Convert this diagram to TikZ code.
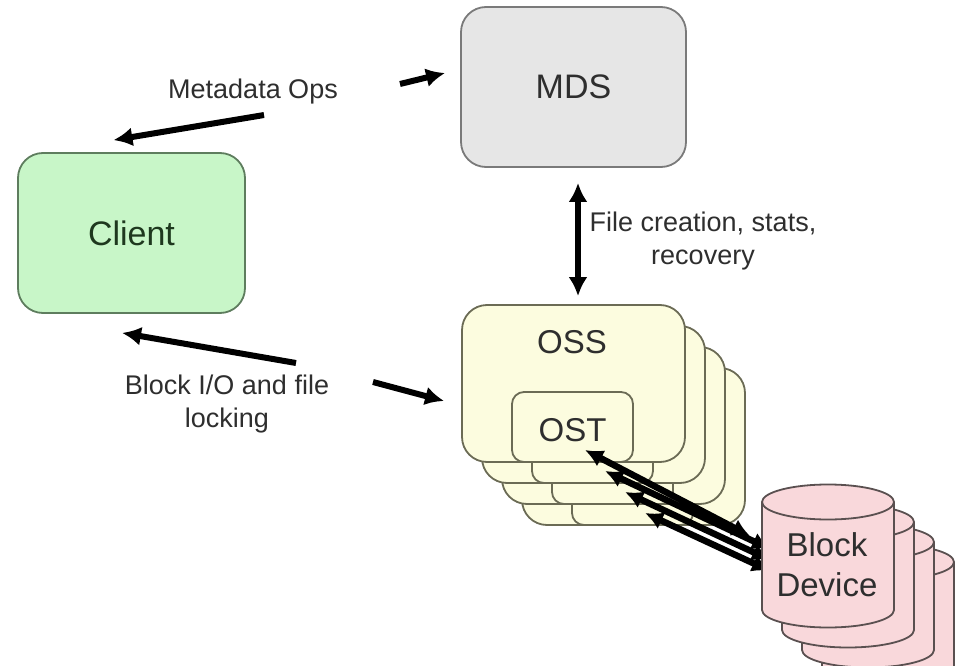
\documentclass[tikz,border=0pt]{standalone}
\usepackage{fontspec}
\setmainfont{Liberation Sans}
\usetikzlibrary{arrows.meta}

\definecolor{clientfill}{HTML}{C8F6C8}
\definecolor{clientline}{HTML}{5E7D5E}
\definecolor{clienttxt}{HTML}{1E381E}
\definecolor{mdsfill}{HTML}{E6E6E6}
\definecolor{mdsline}{HTML}{7A7A7A}
\definecolor{ossfill}{HTML}{FCFCDF}
\definecolor{ossline}{HTML}{6B6B55}
\definecolor{devfill}{HTML}{F9D8DB}
\definecolor{devline}{HTML}{5A5050}
\definecolor{txt}{HTML}{2E2E2E}

\begin{document}
\begin{tikzpicture}[x=1pt,y=-1pt,
  box/.style={draw, rounded corners=25pt, line width=1.8pt, inner sep=0pt},
  big/.style={font=\fontsize{33}{40}\selectfont, text=txt, align=center},
  lbl/.style={font=\fontsize{27}{33}\selectfont, text=txt, align=center},
  flow/.style={line width=6pt, -{Latex[length=19pt,width=19pt]}},
  both/.style={line width=6pt, {Latex[length=19pt,width=19pt]}-{Latex[length=19pt,width=19pt]}},
  link/.style={line width=6.5pt, {Latex[length=18pt,width=18pt]}-{Latex[length=18pt,width=18pt]}},
  cyl/.style={fill=devfill, draw=devline, line width=1.8pt},
]
\useasboundingbox (0,0) rectangle (961,666);
\clip (0,0) rectangle (961,666);

% Client and metadata server
\node[box, fill=clientfill, draw=clientline, minimum width=227pt, minimum height=160pt,
      font=\fontsize{34}{40}\selectfont, text=clienttxt] (client) at (131.5,233) {Client};
\node[box, fill=mdsfill, draw=mdsline, minimum width=225pt, minimum height=160pt,
      font=\fontsize{34}{40}\selectfont, text=txt] (mds) at (573.5,87) {MDS};

% Object storage servers, drawn back to front
\foreach \k in {3,2,1,0}{
  \begin{scope}[shift={(20*\k,21*\k)}]
    \node[box, fill=ossfill, draw=ossline, minimum width=223pt, minimum height=157pt]
      (oss\k) at (573.5,383.5) {};
    \node[box, rounded corners=12pt, fill=ossfill, draw=ossline,
          minimum width=121pt, minimum height=70pt] (ost\k) at (572.5,427) {};
    \coordinate (ostport\k) at ([xshift=12.5pt,yshift=-23pt]ost\k.center);
  \end{scope}
}
\node[big] (osstitle) at (572,342) {OSS};
\node[big] (osttitle) at (572.5,430) {OST};

% Labels
\node[lbl] (mdlabel) at (253,92) {Metadata Ops};
\node[lbl] (iolabel) at (227,404) {Block I/O and file\\locking};
\node[lbl] (fclabel) at (703,241) {File creation, stats,\\recovery};

% Client / server traffic
\coordinate (mdfrom) at (264,115);
\coordinate (mdto) at (400,84);
\coordinate (iofrom) at (296,363);
\coordinate (ioto) at (373,382);
\draw[flow] (mdfrom) -- ([xshift=-18pt,yshift=12pt]client.north);
\draw[flow] (mdto) -- ([xshift=-15pt,yshift=14pt]mds.west);
\draw[flow] (iofrom) -- ([xshift=-9.5pt,yshift=-19pt]client.south);
\draw[flow] (ioto) -- ([xshift=-17pt,yshift=-17.5pt]oss0.west);
\draw[both] ([xshift=4.5pt,yshift=-15pt]mds.south) -- ([xshift=4.5pt,yshift=8pt]oss0.north);

% OST to block device links
\coordinate (devport0) at (750,536);
\coordinate (devport1) at (770,549);
\coordinate (devport2) at (770,560);
\coordinate (devport3) at (770,571);
\foreach \k in {0,1,2,3}{
  \draw[link] (ostport\k) -- (devport\k);
}

% Block devices, drawn back to front
\foreach \k in {3,2,1,0}{
  \begin{scope}[shift={(20*\k,20*\k)}]
    \path[cyl] (762,502) -- (762,610)
      arc[start angle=180, end angle=360, x radius=66pt, y radius=17.5pt]
      -- (894,502)
      arc[start angle=0, end angle=180, x radius=66pt, y radius=17.5pt] -- cycle;
    \draw[devline, line width=1.8pt] (762,502)
      arc[start angle=180, end angle=360, x radius=66pt, y radius=17.5pt];
  \end{scope}
}
\node[big] (device) at (827,565) {Block\\Device};
\end{tikzpicture}
\end{document}
